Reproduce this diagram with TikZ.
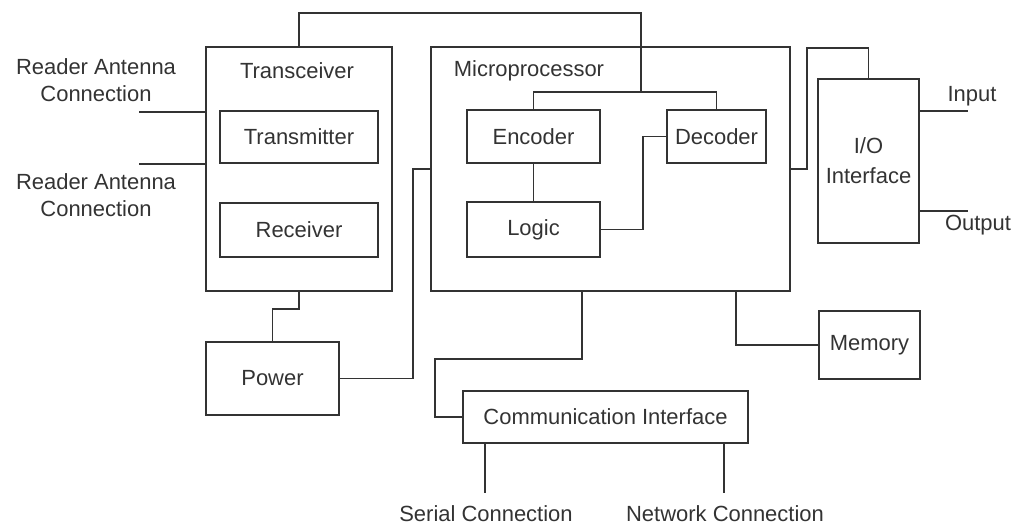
\documentclass[tikz,border=0pt]{standalone}
\usepackage{fontspec}
\setmainfont{Liberation Sans}
\usepackage{tikz}

\begin{document}
\begin{tikzpicture}[x=0.02cm,y=-0.02cm,
  box/.style={draw, inner sep=0pt, align=center},
  lbl/.style={inner sep=0pt, align=center},
  every node/.style={font=\fontsize{12.5}{15.5}\selectfont},
  line width=1pt, color=black!80]
\useasboundingbox (0,0) rectangle (1016,529);
%% blocks
\node [box, minimum width=3.72cm, minimum height=4.88cm] (trx) at (299,169) {};
\node [lbl] (trxlbl) at (297,71) {Transceiver};
\node [box, minimum width=3.16cm, minimum height=1.04cm] (tx) at (299,137) {Transmitter};
\node [box, minimum width=3.16cm, minimum height=1.08cm] (rx) at (299,230) {Receiver};
\node [box, minimum width=7.18cm, minimum height=4.88cm] (mcu) at (610.5,169) {};
\node [lbl] (mculbl) at (529,71) {Microprocessor};
\node [box, minimum width=2.66cm, minimum height=1.06cm] (enc) at (533.5,136.5) {Encoder};
\node [box, minimum width=1.98cm, minimum height=1.06cm] (dec) at (716.5,136.5) {Decoder};
\node [box, minimum width=2.66cm, minimum height=1.1cm] (logic) at (533.5,229.5) {Logic};
\node [box, minimum width=2.02cm, minimum height=3.28cm, font=\fontsize{12.5}{17}\selectfont] (io) at (868.5,161) {I/O\\Interface};
\node [box, minimum width=2.02cm, minimum height=1.36cm] (mem) at (869.5,345) {Memory};
\node [box, minimum width=2.66cm, minimum height=1.46cm] (pwr) at (272.5,378.5) {Power};
\node [box, minimum width=5.7cm, minimum height=1.04cm] (comm) at (605.5,417) {Communication Interface};
%% outside labels
\node [lbl] (ant1lbl) at (96,80) {Reader Antenna\\Connection};
\node [lbl] (ant2lbl) at (96,195) {Reader Antenna\\Connection};
\node [lbl] (inlbl) at (972,96) {Input};
\node [lbl] (outlbl) at (978,225) {Output};
\node [lbl] (serlbl) at (486,514) {Serial Connection};
\node [lbl] (netlbl) at (725,514) {Network Connection};
%% bends and free ends
\coordinate (top) at (641,13);
\coordinate (bus) at (641,92);
\coordinate (ioup) at (807,48);
\coordinate (cbend) at (582,359);
\coordinate (cleft) at (435,359);
\coordinate (mbend) at (736,345);
\coordinate (ant1) at (139,112);
\coordinate (ant2) at (139,164);
\coordinate (in) at (968,111);
\coordinate (out) at (968,211);
\coordinate (ser) at (485,493);
\coordinate (net) at (724,493);
%% connections
\draw (trx.north) |- (top) -- (bus);
\draw (enc.north) |- (bus) -| (dec.north);
\draw (enc.south) -- (logic.north);
\draw (logic.east) -- ++(42,0) |- (dec.west);
\draw (trx.south) -- ++(0,17) -| (pwr.north);
\draw (pwr.east) -- ++(73,0) |- (mcu.west);
\draw (mcu.east) -| (ioup) -| (io.north);
\draw (cbend |- mcu.south) |- (cleft) |- (comm.west);
\draw (mbend |- mcu.south) |- (mem.west);
\draw (ant1) -- (ant1 -| trx.west);
\draw (ant2) -- (ant2 -| trx.west);
\draw (in -| io.east) -- (in);
\draw (out -| io.east) -- (out);
\draw (ser |- comm.south) -- (ser);
\draw (net |- comm.south) -- (net);

\end{tikzpicture}
\end{document}
